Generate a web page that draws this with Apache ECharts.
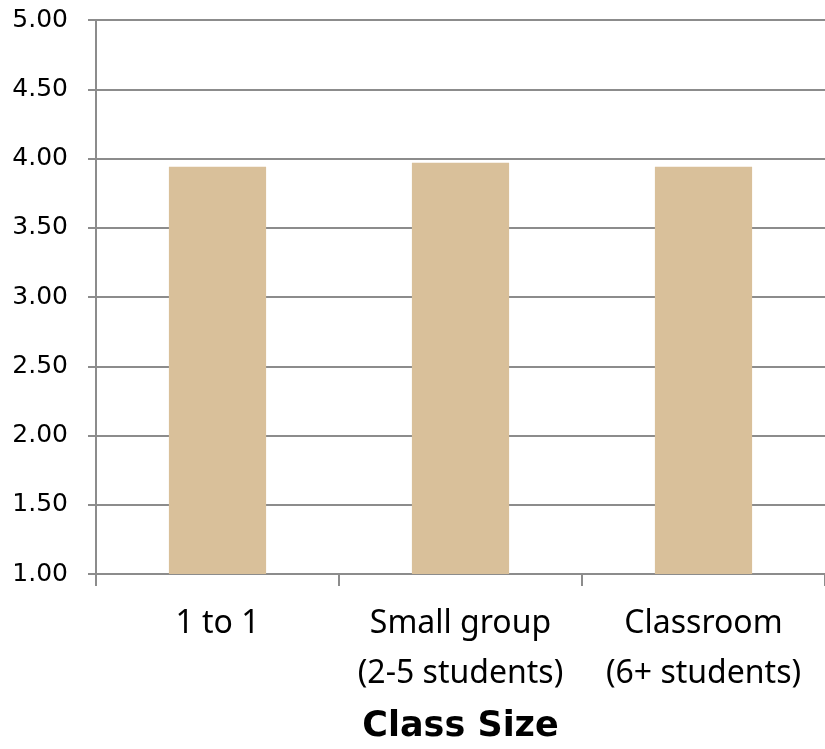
<!DOCTYPE html>
<html>
<head>
<meta charset="utf-8">
<style>
  html, body { margin: 0; padding: 0; background: #fff; overflow: hidden; }
  #chart { width: 825px; height: 749px; }
</style>
<script src="https://cdn.jsdelivr.net/npm/echarts@6/dist/echarts.min.js"></script>
</head>
<body>
<div id="chart"></div>
<script>
// data
const categories = ['1 to 1', 'Small group\n(2-5 students)', 'Classroom\n(6+ students)'];
const scores = [3.94, 3.97, 3.94];
const axisTitle = 'Class Size';

const chart = echarts.init(document.getElementById('chart'));

const option = {
  animation: false,
  grid: { left: 96, top: 20, width: 730, height: 554, containLabel: false },
  xAxis: {
    type: 'category',
    data: categories,
    name: axisTitle,
    nameLocation: 'middle',
    nameGap: 135,
    nameTextStyle: { fontFamily: 'DejaVu Sans', fontWeight: 'bold', fontSize: 35, color: '#000' },
    axisLine: { lineStyle: { color: '#8c8c8c', width: 2 } },
    axisTick: { show: true, interval: 0, length: 12, lineStyle: { color: '#8c8c8c', width: 2 } },
    axisLabel: {
      interval: 0,
      hideOverlap: false,
      margin: 25,
      fontFamily: 'Noto Sans',
      fontSize: 32,
      lineHeight: 50,
      color: '#000'
    }
  },
  yAxis: {
    type: 'value',
    min: 1,
    max: 5,
    interval: 0.5,
    axisLine: { show: true, lineStyle: { color: '#8c8c8c', width: 2 } },
    axisTick: { show: true, length: 8, lineStyle: { color: '#8c8c8c', width: 2 } },
    splitLine: { lineStyle: { color: '#8c8c8c', width: 2 } },
    axisLabel: {
      margin: 28,
      fontFamily: 'DejaVu Sans',
      fontSize: 25,
      color: '#000',
      formatter: v => v.toFixed(2)
    }
  },
  series: [{
    type: 'bar',
    data: scores,
    barWidth: '40%',
    itemStyle: { color: '#d9c09a' }
  }]
};

chart.setOption(option);
</script>
</body>
</html>
